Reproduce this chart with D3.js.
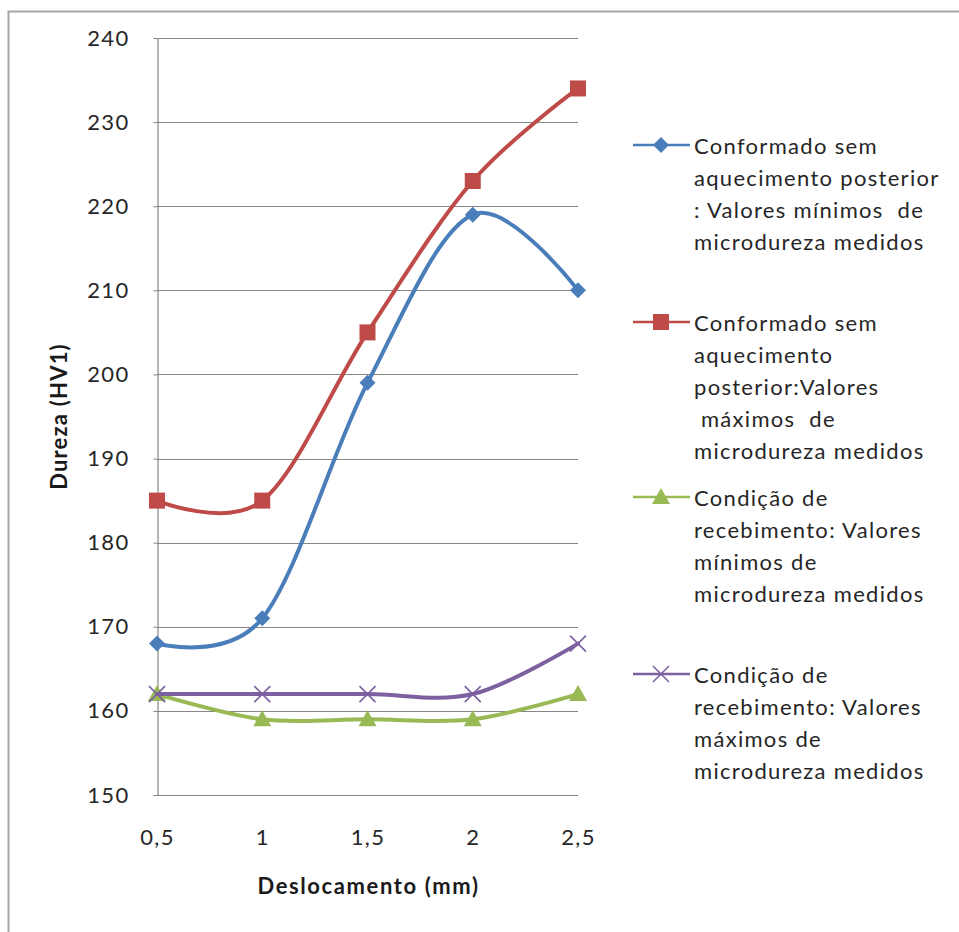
<!DOCTYPE html>
<html>
<head>
<meta charset="utf-8">
<script src="https://cdn.jsdelivr.net/npm/d3@7"></script>
<style>
  html, body { margin: 0; padding: 0; background: #fff; }
  svg { display: block; font-family: Lato, "Open Sans", sans-serif; }
</style>
</head>
<body>
<svg id="chart" width="959" height="932"></svg>
<script>
// Displacement positions (mm) and hardness readings (HV1)
const categories = ["0,5", "1", "1,5", "2", "2,5"];
const yTicks = [150, 160, 170, 180, 190, 200, 210, 220, 230, 240];

const minFormed = [168, 171, 199, 219, 210];
const maxFormed = [185, 185, 205, 223, 234];
const minReceived = [162, 159, 159, 159, 162];
const maxReceived = [162, 162, 162, 162, 168];

const seriesNames = [
  ["Conformado sem", "aquecimento posterior", ": Valores mínimos  de", "microdureza medidos"],
  ["Conformado sem", "aquecimento", "posterior:Valores", " máximos  de", "microdureza medidos"],
  ["Condição de", "recebimento: Valores", "mínimos de", "microdureza medidos"],
  ["Condição de", "recebimento: Valores", "máximos de", "microdureza medidos"]
];
const seriesColors = ["#4a7ebb", "#be4b48", "#98b954", "#7d60a0"];
const seriesMarkers = ["diamond", "square", "triangle", "cross"];

const series = [minFormed, maxFormed, minReceived, maxReceived].map((values, i) => ({
  values, name: seriesNames[i], color: seriesColors[i], marker: seriesMarkers[i]
}));

const svg = d3.select("#chart");

// outer frame of the chart object
svg.append("rect")
  .attr("x", 8.5).attr("y", 11.5)
  .attr("width", 1000).attr("height", 1000)
  .attr("fill", "none").attr("stroke", "#a6a6a6").attr("stroke-width", 2);

const plot = { left: 157, right: 578, top: 38, bottom: 795 };

const x = d3.scalePoint().domain(categories).range([plot.left, plot.right]);
const y = d3.scaleLinear().domain([150, 240]).range([plot.bottom, plot.top]);

// horizontal gridlines
svg.append("g")
  .selectAll("line").data(yTicks).join("line")
  .attr("x1", plot.left).attr("x2", plot.right)
  .attr("y1", d => Math.round(y(d)) + 0.5).attr("y2", d => Math.round(y(d)) + 0.5)
  .attr("stroke", "#868686").attr("stroke-width", 1.2);

// y axis
const yAxis = svg.append("g")
  .attr("transform", `translate(${plot.left + 0.5},0)`)
  .call(d3.axisLeft(y).tickValues(yTicks).tickSize(4).tickPadding(24).tickFormat(d3.format("d")));
yAxis.select(".domain").attr("stroke", "#868686").attr("stroke-width", 1.2);
yAxis.selectAll(".tick line").attr("stroke", "#868686");
yAxis.selectAll(".tick text")
  .attr("font-size", 22).attr("fill", "#262626").attr("letter-spacing", 1.3)
  .attr("font-family", "Lato, sans-serif");

// x axis (category labels only)
const xAxis = svg.append("g")
  .attr("transform", `translate(0,${plot.bottom})`)
  .call(d3.axisBottom(x).tickSize(0).tickPadding(34));
xAxis.select(".domain").remove();
xAxis.selectAll(".tick text")
  .attr("font-size", 22).attr("fill", "#262626").attr("letter-spacing", 1.3)
  .attr("font-family", "Lato, sans-serif");

// axis titles
svg.append("text")
  .attr("x", (plot.left + plot.right) / 2 + 1).attr("y", 894)
  .attr("text-anchor", "middle")
  .attr("font-size", 22).attr("font-weight", "bold").attr("fill", "#1a1a1a")
  .attr("letter-spacing", 1.6)
  .text("Deslocamento (mm)");

svg.append("text")
  .attr("transform", `translate(67,${(plot.top + plot.bottom) / 2}) rotate(-90)`)
  .attr("text-anchor", "middle")
  .attr("font-size", 22).attr("font-weight", "bold").attr("fill", "#1a1a1a")
  .attr("letter-spacing", 1.2)
  .text("Dureza (HV1)");

// smoothed series lines
const line = d3.line()
  .x((d, i) => x(categories[i]))
  .y(d => y(d))
  .curve(d3.curveCardinal.tension(0));

function drawMarker(g, type, color, cx, cy) {
  if (type === "diamond") {
    g.append("path")
      .attr("d", `M${cx},${cy - 8}L${cx + 8},${cy}L${cx},${cy + 8}L${cx - 8},${cy}Z`)
      .attr("fill", color);
  } else if (type === "square") {
    g.append("rect")
      .attr("x", cx - 8).attr("y", cy - 8).attr("width", 16).attr("height", 16)
      .attr("fill", color);
  } else if (type === "triangle") {
    g.append("path")
      .attr("d", `M${cx},${cy - 9}L${cx + 9},${cy + 7}L${cx - 9},${cy + 7}Z`)
      .attr("fill", color);
  } else if (type === "cross") {
    g.append("path")
      .attr("d", `M${cx - 8},${cy - 8}L${cx + 8},${cy + 8}M${cx - 8},${cy + 8}L${cx + 8},${cy - 8}`)
      .attr("stroke", color).attr("stroke-width", 1.6).attr("fill", "none");
  }
}

const seriesLayer = svg.append("g");
series.forEach(s => {
  const g = seriesLayer.append("g");
  g.append("path")
    .attr("d", line(s.values))
    .attr("fill", "none").attr("stroke", s.color)
    .attr("stroke-width", 4).attr("stroke-linejoin", "round").attr("stroke-linecap", "round");
  s.values.forEach((v, i) => drawMarker(g, s.marker, s.color, x(categories[i]), y(v)));
});

// legend
const legendTops = [145, 322, 497, 674];
const lineHeight = 32;
const legend = svg.append("g");
series.forEach((s, i) => {
  const g = legend.append("g").attr("transform", `translate(0,${legendTops[i]})`);
  g.append("line")
    .attr("x1", 633).attr("x2", 690).attr("y1", 0).attr("y2", 0)
    .attr("stroke", s.color).attr("stroke-width", 2.5);
  drawMarker(g, s.marker, s.color, 661, 0);
  const t = g.append("text")
    .attr("x", 694).attr("y", 0)
    .attr("font-size", 22).attr("fill", "#262626").attr("letter-spacing", 1.3)
    .attr("dominant-baseline", "central");
  s.name.forEach((ln, j) => {
    t.append("tspan").attr("x", 694).attr("y", j * lineHeight).attr("xml:space", "preserve").text(ln);
  });
});
</script>
</body>
</html>
